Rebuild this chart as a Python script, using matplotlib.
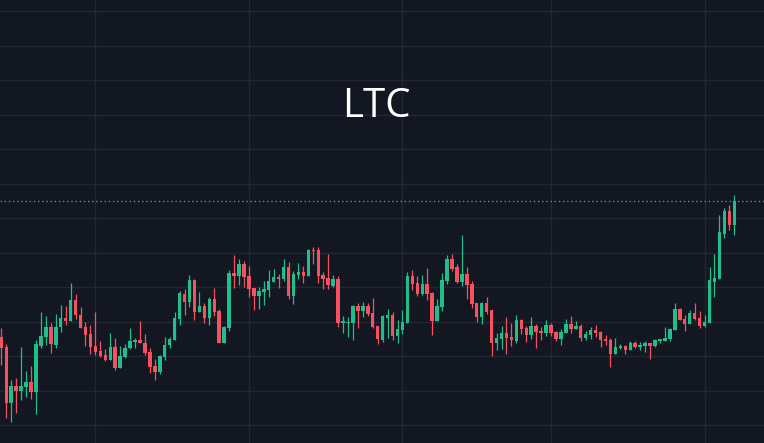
import numpy as np
import pandas as pd
import matplotlib
matplotlib.use('Agg')
import matplotlib.pyplot as plt

# 日线数据 (从图中读出的相对价格)
dates = pd.date_range('2024-06-12', periods=149, freq='D')

opens = [106, 96, 40, 57, 52, 56, 61, 51, 97, 106, 116, 98, 116, 125, 122, 143, 128, 116, 109, 97,
         92, 88, 83, 96, 75, 86, 95, 101, 103, 100, 91, 77, 71, 86, 98, 103, 124, 149, 141, 163,
         131, 137, 125, 144, 132, 100, 115, 170, 167, 179, 167, 155, 147, 151, 153, 161, 166, 164, 176, 147,
         168, 171, 167, 193, 193, 168, 165, 157, 164, 120, 120, 120, 137, 132, 137, 130, 117, 103, 125, 128,
         107, 113, 120, 167, 160, 149, 159, 150, 122, 136, 162, 184, 176, 161, 169, 159, 140, 126, 140, 133,
         100, 104, 110, 106, 102, 123, 115, 108, 117, 112, 110, 118, 111, 104, 110, 119, 114, 117, 105, 108,
         113, 111, 104, 103, 89, 95, 97, 93, 100, 96, 97, 100, 97, 102, 102, 104, 113, 134, 124, 119,
         130, 125, 117, 120, 161, 164, 209, 232, 218]
highs = [115, 99, 63, 65, 96, 72, 77, 103, 131, 127, 120, 129, 138, 137, 160, 149, 136, 121, 118, 131,
         102, 94, 110, 105, 97, 99, 115, 105, 122, 109, 95, 84, 88, 106, 106, 131, 152, 154, 168, 164,
         151, 140, 146, 155, 134, 117, 173, 188, 184, 182, 177, 155, 156, 162, 173, 174, 169, 184, 181, 172,
         180, 177, 194, 196, 196, 171, 189, 168, 167, 127, 126, 138, 140, 141, 140, 145, 117, 128, 134, 131,
         123, 133, 171, 173, 167, 168, 175, 151, 144, 170, 188, 189, 179, 208, 176, 162, 140, 141, 146, 133,
         110, 117, 126, 120, 128, 124, 117, 126, 119, 116, 123, 120, 112, 114, 124, 127, 122, 119, 112, 116,
         118, 112, 108, 105, 105, 99, 98, 102, 102, 101, 102, 100, 104, 104, 116, 115, 140, 135, 128, 133,
         140, 132, 128, 176, 189, 228, 235, 238, 248]
lows = [78, 25, 21, 30, 43, 46, 44, 29, 95, 98, 90, 95, 111, 118, 122, 124, 115, 97, 89, 88,
        86, 82, 83, 73, 75, 85, 94, 95, 100, 88, 70, 63, 69, 83, 95, 103, 118, 128, 136, 123,
        131, 120, 118, 127, 100, 100, 112, 155, 158, 156, 146, 133, 134, 138, 146, 161, 155, 162, 144, 139,
        164, 160, 167, 179, 160, 154, 154, 156, 116, 110, 106, 103, 115, 126, 127, 115, 99, 101, 105, 103,
        100, 109, 120, 153, 147, 148, 143, 108, 122, 132, 159, 172, 160, 157, 144, 135, 121, 119, 129, 87,
        93, 94, 89, 97, 100, 109, 101, 104, 95, 103, 107, 107, 102, 98, 110, 110, 114, 102, 103, 104,
        106, 96, 98, 76, 89, 94, 89, 93, 95, 93, 91, 84, 96, 100, 102, 102, 113, 123, 112, 119,
        123, 115, 116, 120, 146, 164, 205, 213, 208]
closes = [95, 40, 57, 52, 57, 61, 51, 99, 107, 116, 99, 116, 125, 122, 143, 128, 115, 108, 96, 91,
          87, 83, 96, 75, 87, 95, 102, 103, 100, 90, 76, 71, 87, 98, 104, 125, 150, 141, 163, 131,
          137, 125, 144, 131, 100, 116, 170, 167, 179, 166, 154, 147, 152, 154, 162, 166, 164, 176, 147, 169,
          171, 167, 193, 192, 167, 164, 158, 164, 120, 122, 121, 137, 132, 137, 129, 116, 104, 127, 128, 107,
          114, 121, 167, 159, 149, 159, 149, 122, 137, 163, 184, 174, 161, 169, 158, 139, 126, 140, 131, 100,
          105, 110, 105, 103, 123, 114, 108, 117, 111, 110, 118, 110, 104, 111, 119, 114, 117, 105, 109, 113,
          110, 103, 102, 89, 96, 97, 93, 100, 96, 98, 100, 97, 103, 104, 105, 114, 134, 123, 119, 130,
          124, 117, 121, 163, 165, 211, 232, 218, 242]

up_color = '#1fbf8c'
down_color = '#f5515f'
bg = '#131722'
grid_color = '#232734'

o = np.array(opens)
h = np.array(highs)
l = np.array(lows)
c = np.array(closes)
x = np.arange(len(o))
colors = np.where(c >= o, up_color, down_color)

fig = plt.figure(figsize=(7.64, 4.43), dpi=100, facecolor=bg)
ax = fig.add_axes([0, 0, 1, 1], facecolor=bg)

# 影线
ax.vlines(x, l, h, colors=colors, linewidth=0.9, zorder=2)
# 实体
body = np.maximum(np.abs(c - o), 0.8)
ax.bar(x, body, bottom=np.minimum(o, c), width=0.7, color=colors, linewidth=0, zorder=3)

# 最新价虚线
ax.axhline(c[-1], color='#26a69a', linestyle=(0, (1, 2)), linewidth=1, zorder=1)

# 网格: 每月一条竖线
month_starts = [i for i, d in enumerate(dates) if d.day == 1]
ax.set_xticks(month_starts)
ax.set_yticks(np.arange(431.7, 0, -34.48))
ax.grid(True, color=grid_color, linewidth=1)
ax.set_axisbelow(True)
ax.tick_params(length=0, labelbottom=False, labelleft=False)
for s in ax.spines.values():
    s.set_visible(False)

ax.set_xlim(-0.26, 154.0)
ax.set_ylim(0, 443)

fig.text(0.493, 0.735, 'LTC', ha='center', va='baseline', fontsize=29,
         color='white', family=['Open Sans', 'DejaVu Sans'])

fig.savefig('out.png', dpi=100, facecolor=bg)
